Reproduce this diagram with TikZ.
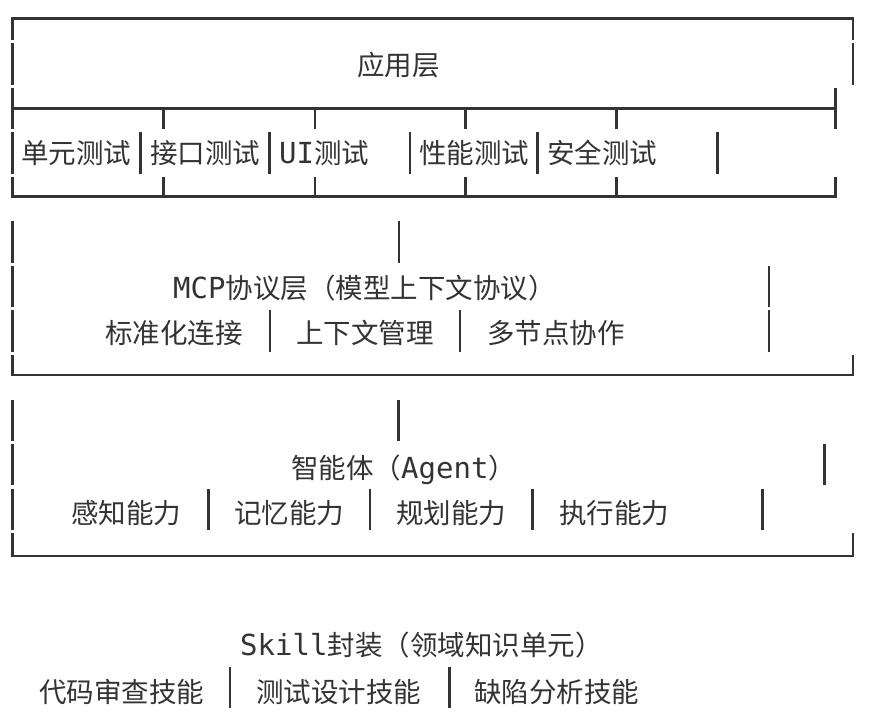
\documentclass[tikz,border=0pt]{standalone}
\usepackage{fontspec}
\setmainfont{Noto Sans CJK SC}
\newfontfamily\monofnt{DejaVu Sans Mono}
\definecolor{ink}{HTML}{333333}
\tikzset{
  ln/.style={draw=ink, line width=2.6pt},
  hl/.style={ln, line cap=rect},
  txt/.style={anchor=base west, inner sep=0pt, text=ink, font=\fontsize{27.5}{30}\selectfont},
}
\newcommand\lat[1]{{\monofnt\fontsize{29}{30}\selectfont #1}}
\newcommand\vseg[2]{\draw[ln] (#1,{-3+44.55*#2+1.6}) -- (#1,{-3+44.55*(#2+1)-1.6});}
\begin{document}
\begin{tikzpicture}[x=1pt,y=-1pt]
\fill[white] (0,0) rectangle (870,726);
\useasboundingbox (0,0) rectangle (870,726);

% ---------- Section 1: application layer ----------
\draw[hl] (12.3,18.3) -- (853,18.3);
\draw[hl] (12.3,108.3) -- (835.7,108.3);
\draw[hl] (12.3,196.7) -- (835.7,196.7);
\draw[ln] (12.3,18.3) -- (12.3,40);
\vseg{12.3}{1}
\vseg{12.3}{2}
\vseg{12.3}{3}
\draw[ln] (12.3,176.7) -- (12.3,196.7);
\draw[ln] (853,18.3) -- (853,40);
\vseg{853}{1}
\vseg{835.7}{2}
\draw[ln] (835.7,176.7) -- (835.7,196.7);
\foreach \x in {163.3,315,465.7,616.7}{
  \draw[ln] (\x,108.3) -- (\x,129.1);
  \draw[ln] (\x,176.7) -- (\x,196.7);
}
\foreach \x in {140.7,269.3,410,537.7,717.3}{\vseg{\x}{3}}

\node[txt] (app) at (357,75.6) {应用层};
\node[txt] (u1) at (21,163.1) {单元测试};
\node[txt] (u2) at (150,163.1) {接口测试};
\node[txt] (u3) at (279,163.1) {\lat{UI}测试};
\node[txt] (u4) at (419,163.1) {性能测试};
\node[txt] (u5) at (547,163.1) {安全测试};

% ---------- Section 2: MCP layer ----------
\vseg{12.3}{5}
\vseg{399}{5}
\vseg{12.3}{6}
\vseg{769}{6}
\vseg{12.3}{7}
\vseg{270}{7}
\vseg{460}{7}
\vseg{769}{7}
\draw[ln] (12.3,355) -- (12.3,375);
\draw[ln] (853,355) -- (853,375);
\draw[hl] (12.3,375) -- (853,375);

\node[txt] (mcp) at (173,298.6) {\lat{MCP}协议层（模型上下文协议）};
\node[txt] (m1) at (105,343.3) {标准化连接};
\node[txt] (m2) at (296,343.3) {上下文管理};
\node[txt] (m3) at (487,343.3) {多节点协作};

% ---------- Section 3: Agent ----------
\vseg{12.3}{9}
\vseg{398.5}{9}
\vseg{12.3}{10}
\vseg{824.3}{10}
\vseg{12.3}{11}
\foreach \x in {208.3,370,532.3,762.3}{\vseg{\x}{11}}
\draw[ln] (12.3,533.2) -- (12.3,556);
\draw[ln] (853,533.2) -- (853,556);
\draw[hl] (12.3,556) -- (853,556);

\node[txt] (ag) at (291,478.6) {智能体（\lat{Agent}）};
\node[txt] (a1) at (71,523.6) {感知能力};
\node[txt] (a2) at (234,523.6) {记忆能力};
\node[txt] (a3) at (396,523.6) {规划能力};
\node[txt] (a4) at (559,523.6) {执行能力};

% ---------- Section 4: Skill ----------
\vseg{230}{15}
\vseg{449.3}{15}

\node[txt] (sk) at (240,655.6) {\lat{Skill}封装（领域知识单元）};
\node[txt] (s1) at (39,702.6) {代码审查技能};
\node[txt] (s2) at (256,702.6) {测试设计技能};
\node[txt] (s3) at (474,702.6) {缺陷分析技能};
\end{tikzpicture}
\end{document}
